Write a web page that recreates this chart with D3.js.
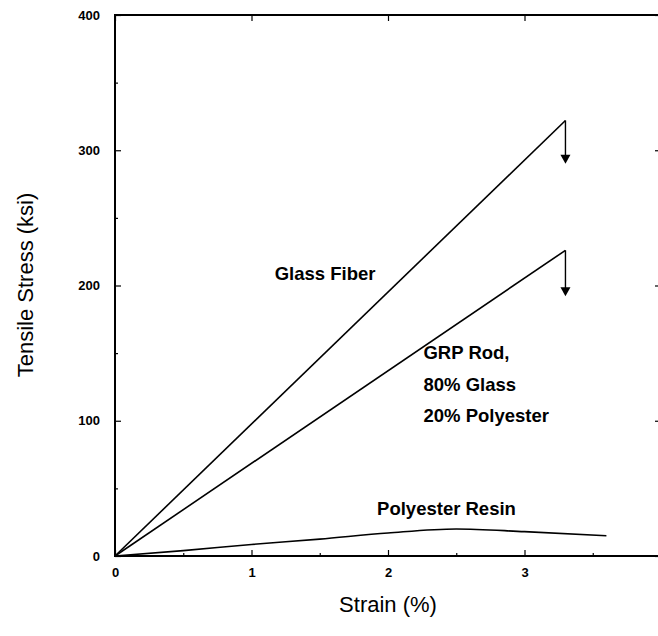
<!DOCTYPE html>
<html>
<head>
<meta charset="utf-8">
<script src="https://cdn.jsdelivr.net/npm/d3@7"></script>
<style>
  body { margin: 0; background: #fff; }
  svg { display: block; }
  text { font-family: "Liberation Sans", Arial, sans-serif; fill: #000; }
  .tick text { font-weight: bold; font-size: 13px; }
  .lbl { font-size: 18.5px; font-weight: bold; }
  .title { font-size: 22px; }
</style>
</head>
<body>
<div id="chart"></div>
<script>
// data
var glassFiber = [[0, 0], [3.3, 322]];
var grpRod = [[0, 0], [3.3, 226]];
var polyResin = [[0, 0], [0.5, 4], [1, 8.5], [1.5, 12.5], [2, 17], [2.5, 20], [3, 18], [3.6, 15]];
var failDrops = [[3.3, 322, 290], [3.3, 226, 192]];
var xTicks = [0, 1, 2, 3];
var yTicks = [0, 100, 200, 300, 400];

var svgWidth = 658;
var svgHeight = 636;

var margin = {top: 15, right: -3, bottom: 80, left: 115};
var chartWidth = svgWidth - margin.left - margin.right;
var chartHeight = svgHeight - margin.top - margin.bottom;

var svg = d3.select('#chart').append('svg')
  .attr('width', svgWidth)
  .attr('height', svgHeight);

var chartGroup = svg.append('g')
  .attr('transform', `translate(${margin.left}, ${margin.top})`);

var xScale = d3.scaleLinear().domain([0, 4]).range([0, chartWidth]);
var yScale = d3.scaleLinear().domain([0, 400]).range([chartHeight, 0]);

// frame
chartGroup.append('rect')
  .attr('x', 0).attr('y', 0)
  .attr('width', chartWidth).attr('height', chartHeight)
  .attr('fill', 'none').attr('stroke', '#000').attr('stroke-width', 2);

// axes with inward ticks
chartGroup.append('g')
  .attr('transform', `translate(0, ${chartHeight})`)
  .call(d3.axisBottom(xScale).tickValues(xTicks).tickSize(-6).tickPadding(12).tickFormat(d3.format('d')));
chartGroup.append('g')
  .call(d3.axisLeft(yScale).tickValues(yTicks).tickSize(-6).tickPadding(15).tickFormat(d3.format('d')));
chartGroup.append('g')
  .attr('transform', `translate(0, ${chartHeight})`)
  .call(d3.axisBottom(xScale).tickValues([0.5, 1.5, 2.5, 3.5]).tickSize(-3).tickFormat(''));
chartGroup.append('g')
  .call(d3.axisLeft(yScale).tickValues([50, 150, 250, 350]).tickSize(-3).tickFormat(''));
chartGroup.append('g')
  .call(d3.axisTop(xScale).tickValues(xTicks).tickSize(-6).tickFormat(''));
chartGroup.append('g')
  .attr('transform', `translate(${chartWidth}, 0)`)
  .call(d3.axisRight(yScale).tickValues(yTicks).tickSize(-6).tickFormat(''));

chartGroup.selectAll('.domain').remove();
chartGroup.selectAll('.tick line').attr('stroke', '#000').attr('stroke-width', 1.2);

// curves
var line = d3.line().x(d => xScale(d[0])).y(d => yScale(d[1]));
var curve = d3.line().x(d => xScale(d[0])).y(d => yScale(d[1])).curve(d3.curveMonotoneX);

[glassFiber, grpRod].forEach(function(s) {
  chartGroup.append('path').datum(s)
    .attr('d', line)
    .attr('fill', 'none').attr('stroke', '#000').attr('stroke-width', 1.6);
});
chartGroup.append('path').datum(polyResin)
  .attr('d', curve)
  .attr('fill', 'none').attr('stroke', '#000').attr('stroke-width', 1.6);

// failure arrows
chartGroup.selectAll('line.drop')
  .data(failDrops)
  .enter()
  .append('line')
  .attr('class', 'drop')
  .attr('x1', d => xScale(d[0])).attr('x2', d => xScale(d[0]))
  .attr('y1', d => yScale(d[1])).attr('y2', d => yScale(d[2]) - 6)
  .attr('stroke', '#000').attr('stroke-width', 1.4);
chartGroup.selectAll('path.head')
  .data(failDrops)
  .enter()
  .append('path')
  .attr('class', 'head')
  .attr('d', d => {
    var x = xScale(d[0]), y = yScale(d[2]);
    return `M${x - 5},${y - 9}L${x + 5},${y - 9}L${x},${y}Z`;
  })
  .attr('fill', '#000');

// labels
var labels = [
  {t: 'Glass Fiber', x: 1.17, y: 204},
  {t: 'GRP Rod,', x: 2.26, y: 146},
  {t: '80% Glass', x: 2.26, y: 122},
  {t: '20% Polyester', x: 2.26, y: 99},
  {t: 'Polyester Resin', x: 1.92, y: 30}
];
chartGroup.selectAll('text.lbl')
  .data(labels)
  .enter()
  .append('text')
  .attr('class', 'lbl')
  .attr('x', d => xScale(d.x))
  .attr('y', d => yScale(d.y))
  .text(d => d.t);

// axis titles
svg.append('text').attr('class', 'title')
  .attr('x', 388).attr('y', 612)
  .attr('text-anchor', 'middle')
  .text('Strain (%)');
svg.append('text').attr('class', 'title')
  .attr('transform', 'translate(33, 285) rotate(-90)')
  .attr('text-anchor', 'middle')
  .text('Tensile Stress (ksi)');
</script>
</body>
</html>
